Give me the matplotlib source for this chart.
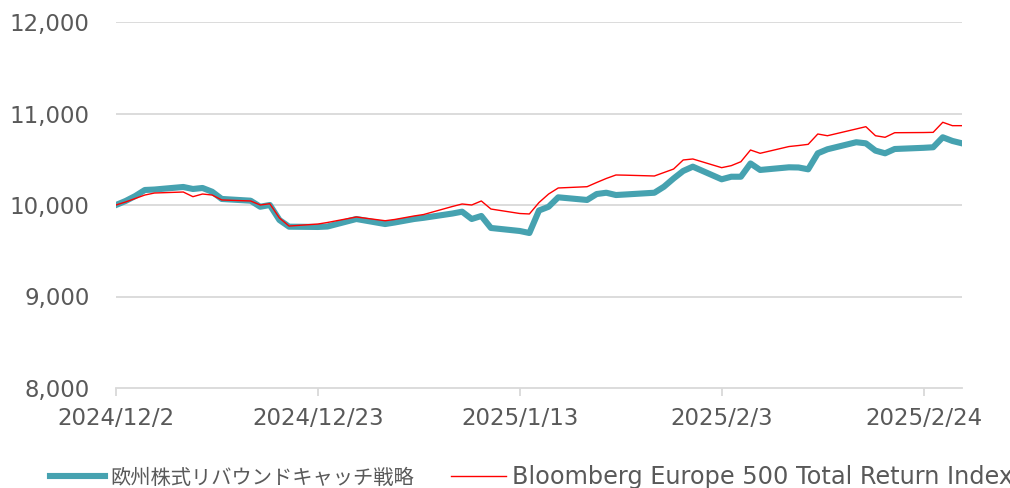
import numpy as np
import pandas as pd
import matplotlib
matplotlib.use("Agg")
import matplotlib.pyplot as plt
import matplotlib.dates as mdates

plt.rcParams['font.family'] = ['DejaVu Sans', 'Noto Sans CJK JP']

# business days shown on the chart
dates = pd.to_datetime([
    "2024-12-02", "2024-12-03", "2024-12-04", "2024-12-05", "2024-12-06",
    "2024-12-09", "2024-12-10", "2024-12-11", "2024-12-12", "2024-12-13",
    "2024-12-16", "2024-12-17", "2024-12-18", "2024-12-19", "2024-12-20",
    "2024-12-23", "2024-12-24", "2024-12-27", "2024-12-30", "2024-12-31",
    "2025-01-02", "2025-01-03", "2025-01-06", "2025-01-07", "2025-01-08",
    "2025-01-09", "2025-01-10", "2025-01-13", "2025-01-14", "2025-01-15",
    "2025-01-16", "2025-01-17", "2025-01-20", "2025-01-21", "2025-01-22",
    "2025-01-23", "2025-01-24", "2025-01-27", "2025-01-28", "2025-01-29",
    "2025-01-30", "2025-01-31", "2025-02-03", "2025-02-04", "2025-02-05",
    "2025-02-06", "2025-02-07", "2025-02-10", "2025-02-11", "2025-02-12",
    "2025-02-13", "2025-02-14", "2025-02-17", "2025-02-18", "2025-02-19",
    "2025-02-20", "2025-02-21", "2025-02-24", "2025-02-25", "2025-02-26",
    "2025-02-27", "2025-02-28",
])

# 欧州株式リバウンドキャッチ戦略
strategy = [
    10000, 10044, 10098, 10164, 10169,
    10197, 10175, 10186, 10145, 10066,
    10047, 9981, 10000, 9836, 9763,
    9760, 9765, 9847, 9792, 9809,
    9847, 9860, 9907, 9927, 9847,
    9880, 9749, 9716, 9694, 9940,
    9981, 10084, 10055, 10120, 10134,
    10109, 10115, 10134, 10200, 10290,
    10372, 10419, 10281, 10309, 10309,
    10454, 10383, 10412, 10410, 10390,
    10565, 10609, 10686, 10674, 10594,
    10565, 10612, 10625, 10631, 10740,
    10700, 10674,
]

# Bloomberg Europe 500 Total Return Index
benchmark = [
    10000, 10033, 10071, 10109, 10131,
    10142, 10091, 10120, 10109, 10055,
    10044, 10000, 10014, 9858, 9770,
    9792, 9809, 9869, 9828, 9842,
    9880, 9896, 9984, 10011, 10000,
    10044, 9956, 9907, 9902, 10027,
    10120, 10186, 10200, 10246, 10290,
    10328, 10326, 10317, 10355, 10393,
    10492, 10503, 10408, 10430, 10473,
    10601, 10565, 10639, 10650, 10663,
    10776, 10757, 10831, 10856, 10757,
    10740, 10790, 10792, 10794, 10904,
    10867, 10867,
]

tick_dates = pd.to_datetime(["2024-12-02", "2024-12-23", "2025-01-13",
                             "2025-02-03", "2025-02-24"])
tick_labels = [f"{d.year}/{d.month}/{d.day}" for d in tick_dates]
y_ticks = [8000, 9000, 10000, 11000, 12000]

fig = plt.figure(figsize=(10.10, 4.88), dpi=100)
ax = fig.add_axes([116 / 1010, 100 / 488, 846 / 1010, 366 / 488])

ax.plot(dates, strategy, color='#46A2B0', lw=4.4, solid_joinstyle='round',
        label='欧州株式リバウンドキャッチ戦略', zorder=3)
ax.plot(dates, benchmark, color='#FF0000', lw=1.0,
        label='Bloomberg Europe 500 Total Return Index', zorder=4)

ax.set_xlim(pd.Timestamp("2024-12-02"), pd.Timestamp("2025-02-28"))
ax.set_ylim(8000, 12000)
ax.set_yticks(y_ticks)
ax.set_yticklabels([f"{v:,}" for v in y_ticks])
ax.set_xticks(tick_dates)
ax.set_xticklabels(tick_labels)

for v in y_ticks[1:]:
    ax.axhline(v, color='#D9D9D9', lw=1.3, zorder=1)

for s in ['top', 'right', 'left']:
    ax.spines[s].set_visible(False)
ax.spines['bottom'].set_color('#D9D9D9')
ax.spines['bottom'].set_linewidth(1.3)

ax.tick_params(axis='y', length=0, pad=19, labelsize=16.5, labelcolor='#595959')
ax.tick_params(axis='x', length=6, width=1.3, color='#D9D9D9', pad=8,
               labelsize=16.5, labelcolor='#595959')

leg = fig.legend(loc='center left', bbox_to_anchor=(50 / 1010, 1 - 477 / 488),
                 ncol=2, frameon=False, fontsize=16.5, handlelength=2.4,
                 handletextpad=0.25, columnspacing=1.6, labelcolor='#595959',
                 borderaxespad=0, borderpad=0)
leg.get_texts()[0].set_fontsize(14.6)
leg.get_texts()[1].set_fontsize(17.3)

fig.savefig("out.png", dpi=100)
